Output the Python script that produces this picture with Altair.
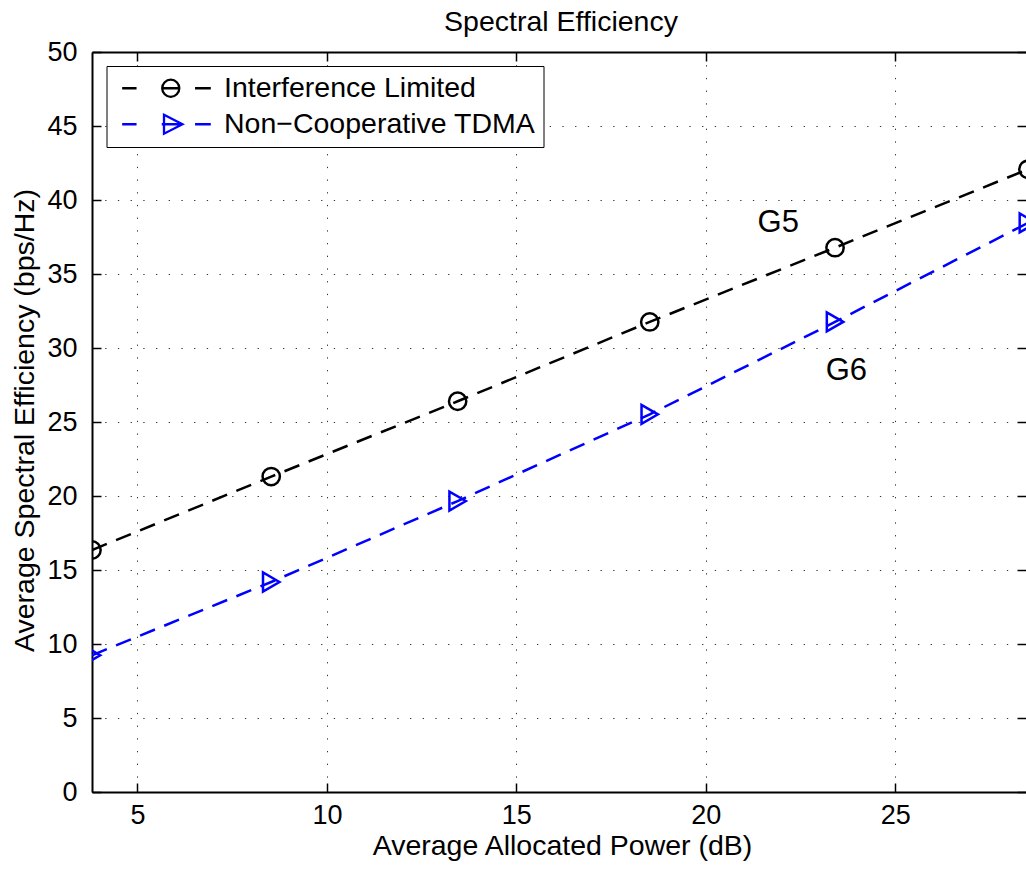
import altair as alt
import pandas as pd

# ---- data ----
power_db = [3.8, 8.53, 13.45, 18.52, 23.41, 28.5]
interference_limited = [16.35, 21.31, 26.4, 31.76, 36.78, 42.07]
non_coop_tdma = [9.24, 14.19, 19.66, 25.52, 31.76, 38.45]
series_names = ["Interference Limited", "Non\u2212Cooperative TDMA"]
series_colors = ["#000000", "#0000ff"]
x_ticks = [5, 10, 15, 20, 25]
y_ticks = [0, 5, 10, 15, 20, 25, 30, 35, 40, 45, 50]
annot_labels = ["G5", "G6"]
annot_x = [21.91, 23.71]
annot_y = [38.43, 28.43]

FONT = "Liberation Sans"
X_DOMAIN = [3.8, 28.45]
Y_DOMAIN = [0, 50]

df = pd.DataFrame({
    "power": power_db * 2,
    "eff": interference_limited + non_coop_tdma,
    "series": [series_names[0]] * len(power_db) + [series_names[1]] * len(power_db),
})
df_black = df[df.series == series_names[0]]
df_blue = df[df.series == series_names[1]]
df_text = pd.DataFrame({"x": annot_x, "y": annot_y, "label": annot_labels})


def xs():
    return alt.Scale(domain=X_DOMAIN, nice=False, zero=False)


def ys():
    return alt.Scale(domain=Y_DOMAIN, nice=False, zero=False)


GRID = dict(grid=True, gridColor="#333333", gridWidth=1, gridDash=[1.3, 11.4], gridOpacity=1)

ax_bottom_main = alt.Axis(
    orient="bottom", values=x_ticks, ticks=False, tickSize=0, domain=True,
    domainColor="black", domainWidth=2, labelPadding=10, labelFont=FONT,
    labelFontSize=27, labelColor="black", title="Average Allocated Power (dB)",
    titleFont=FONT, titleFontSize=28.5, titleFontWeight="normal", titleColor="black",
    titleBaseline="alphabetic", titleX=470, titleY=62, titleAnchor="middle", **GRID)
ax_left_main = alt.Axis(
    orient="left", values=y_ticks, ticks=False, tickSize=0, domain=True,
    domainColor="black", domainWidth=2, labelPadding=15, labelFont=FONT,
    labelFontSize=27, labelColor="black", title="Average Spectral Efficiency (bps/Hz)",
    titleFont=FONT, titleFontSize=28.5, titleFontWeight="normal", titleColor="black",
    titleAngle=-90, titleBaseline="alphabetic", titleAlign="center",
    titleX=-59, titleY=368, **GRID)
ax_top_domain = alt.Axis(
    orient="top", values=x_ticks, ticks=False, labels=False, grid=False, domain=True,
    domainColor="black", domainWidth=2, title=None)


def tick_axis(orient, vals):
    return alt.Axis(orient=orient, values=vals, ticks=True, tickSize=9, tickWidth=1.5,
                    tickColor="black", labels=False, grid=False, domain=False,
                    offset=-9, title=None)


black_line = alt.Chart(df_black).mark_line(
    color=series_colors[0], strokeDash=[16, 10], strokeWidth=2.5, clip=True
).encode(
    x=alt.X("power:Q", scale=xs(), axis=ax_bottom_main),
    y=alt.Y("eff:Q", scale=ys(), axis=ax_left_main),
)

blue_line = alt.Chart(df_blue).mark_line(
    color=series_colors[1], strokeDash=[16, 10], strokeWidth=2.5, clip=True
).encode(
    x=alt.X("power:Q", scale=xs(), axis=ax_top_domain),
    y=alt.Y("eff:Q", scale=ys(), axis=None),
)

circles = alt.Chart(df_black).mark_point(
    shape="circle", filled=False, color=series_colors[0], strokeWidth=2.5,
    size=300, opacity=1, clip=True
).encode(
    x=alt.X("power:Q", scale=xs(), axis=tick_axis("bottom", x_ticks)),
    y=alt.Y("eff:Q", scale=ys(), axis=tick_axis("left", y_ticks)),
)

triangles = alt.Chart(df_blue).mark_point(
    shape="triangle-right", filled=False, color=series_colors[1], strokeWidth=2.5,
    size=360, opacity=1, clip=True
).encode(
    x=alt.X("power:Q", scale=xs(), axis=tick_axis("top", x_ticks)),
    y=alt.Y("eff:Q", scale=ys(), axis=tick_axis("right", y_ticks)),
)

labels = alt.Chart(df_text).mark_text(
    font=FONT, fontSize=31, color="black", align="center", baseline="middle"
).encode(
    x=alt.X("x:Q", scale=xs(), axis=None),
    y=alt.Y("y:Q", scale=ys(), axis=None),
    text="label:N",
)

circle_sym = ("M-5.4,0 L-3.8,0 M-0.95,0 L0.95,0 "
              "M-0.95,0 A0.95,0.95 0 1,1 0.95,0 A0.95,0.95 0 1,1 -0.95,0 "
              "M2.7,0 L4.45,0")
tri_sym = ("M-5.4,0 L-3.8,0 M-1,0 L1.3,0 "
           "M-0.75,-1.05 L1.3,0 L-0.75,1.05 Z "
           "M2.7,0 L4.45,0")

legend_def = alt.Legend(
    title=None, orient="none", legendX=14.5, legendY=14, labelFont=FONT,
    labelFontSize=28.5, labelColor="black", labelLimit=800, labelOffset=39,
    symbolOffset=42, padding=8, rowPadding=7, strokeColor="black",
    fillColor="white", symbolStrokeWidth=2.3, symbolFillColor="transparent",
    symbolSize=324, cornerRadius=0,
)

legend_layer = alt.Chart(df).transform_filter("false").mark_point(
    filled=False, size=324, strokeWidth=2.3, opacity=1
).encode(
    color=alt.Color("series:N", scale=alt.Scale(domain=series_names, range=series_colors),
                    legend=legend_def),
    shape=alt.Shape("series:N", scale=alt.Scale(domain=series_names, range=[circle_sym, tri_sym]),
                    legend=legend_def),
)

chart = alt.layer(
    black_line, blue_line, circles, triangles, labels, legend_layer
).resolve_scale(
    x="independent", y="independent"
).properties(
    width=934, height=740,
    title=alt.TitleParams("Spectral Efficiency", font=FONT, fontSize=28.5,
                          fontWeight="normal", color="black", anchor="middle",
                          baseline="alphabetic", offset=-21, dx=2, frame="group"),
    autosize=alt.AutoSizeParams(type="none"),
    padding={"left": 92, "top": 52, "right": 0, "bottom": 80},
).configure_view(
    stroke=None
).configure_legend(
    strokeWidth=2
).configure(
    background="white"
)

chart.save("out.html", embed_options={"renderer": "svg", "actions": False})
